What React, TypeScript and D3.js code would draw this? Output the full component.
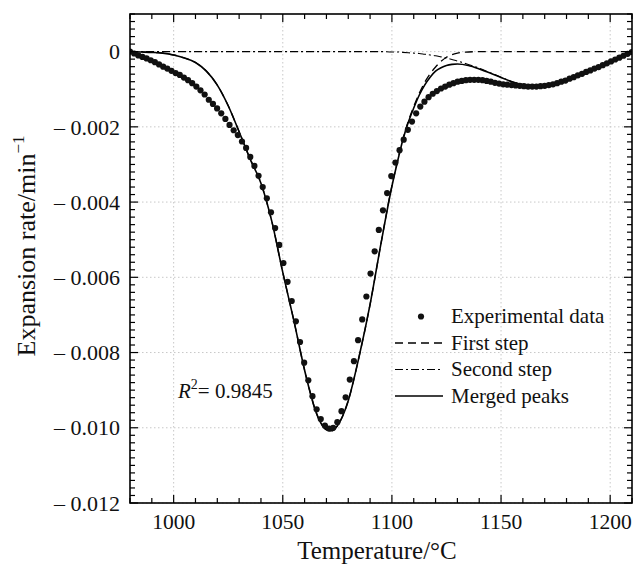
import React from 'react';
import * as d3 from 'd3';

const W = 633;
const H = 568;
const PL = 130, PR = 632, PT = 14, PB = 503;

// axis definitions
const xDomain = [980, 1210];
const yDomain = [-0.012, 0.001];
const xMajorTicks = [1000, 1050, 1100, 1150, 1200];
const xTickLabels = ['1000', '1050', '1100', '1150', '1200'];
const yMajorTicks = [0, -0.002, -0.004, -0.006, -0.008, -0.01, -0.012];
const yTickLabels = ['0', '\u2013 0.002', '\u2013 0.004', '\u2013 0.006', '\u2013 0.008', '\u2013 0.010', '\u2013 0.012'];

// rates are stored in units of 10^-3 min^-1
const RATE_UNIT = 1e-3;

// experimental data
const expTemp = [
  980.0, 981.9, 983.8, 985.7, 987.6, 989.5, 991.4, 993.3, 995.2, 997.1,
  999.0, 1000.9, 1002.8, 1004.7, 1006.6, 1008.5, 1010.4, 1012.3, 1014.2, 1016.1,
  1018.0, 1019.9, 1021.8, 1023.7, 1025.6, 1027.5, 1029.4, 1031.3, 1033.2, 1035.1,
  1037.0, 1038.9, 1040.8, 1042.7, 1044.6, 1046.5, 1048.4, 1050.3, 1052.2, 1054.1,
  1056.0, 1057.9, 1059.8, 1061.7, 1063.6, 1065.5, 1067.4, 1069.3, 1071.2, 1073.1,
  1075.0, 1076.9, 1078.8, 1080.7, 1082.6, 1084.5, 1086.4, 1088.3, 1090.2, 1092.1,
  1094.0, 1095.9, 1097.8, 1099.7, 1101.6, 1103.5, 1105.4, 1107.3, 1109.2, 1111.1,
  1113.0, 1114.9, 1116.8, 1118.7, 1120.6, 1122.5, 1124.4, 1126.3, 1128.2, 1130.1,
  1132.0, 1133.9, 1135.8, 1137.7, 1139.6, 1141.5, 1143.4, 1145.3, 1147.2, 1149.1,
  1151.0, 1152.9, 1154.8, 1156.7, 1158.6, 1160.5, 1162.4, 1164.3, 1166.2, 1168.1,
  1170.0, 1171.9, 1173.8, 1175.7, 1177.6, 1179.5, 1181.4, 1183.3, 1185.2, 1187.1,
  1189.0, 1190.9, 1192.8, 1194.7, 1196.6, 1198.5, 1200.4, 1202.3, 1204.2, 1206.1,
  1208.0, 1209.9,
];
const expRate = [
  0, -0.05, -0.10, -0.14, -0.18, -0.23, -0.28, -0.34, -0.40, -0.45,
  -0.51, -0.57, -0.62, -0.69, -0.76, -0.84, -0.93, -1.03, -1.14, -1.28,
  -1.39, -1.51, -1.64, -1.79, -1.95, -2.09, -2.22, -2.39, -2.56, -2.80,
  -3.04, -3.30, -3.60, -3.90, -4.27, -4.69, -5.14, -5.62, -6.12, -6.63,
  -7.17, -7.72, -8.27, -8.74, -9.16, -9.51, -9.77, -9.94, -10.02, -10.00,
  -9.85, -9.56, -9.19, -8.72, -8.23, -7.67, -7.12, -6.51, -5.90, -5.31,
  -4.74, -4.22, -3.76, -3.31, -2.95, -2.62, -2.34, -2.08, -1.86, -1.64,
  -1.46, -1.33, -1.21, -1.12, -1.05, -0.98, -0.93, -0.88, -0.84, -0.80,
  -0.78, -0.76, -0.75, -0.75, -0.75, -0.76, -0.78, -0.80, -0.83, -0.85,
  -0.87, -0.88, -0.89, -0.90, -0.91, -0.92, -0.93, -0.93, -0.93, -0.92,
  -0.91, -0.89, -0.87, -0.84, -0.80, -0.77, -0.72, -0.68, -0.63, -0.59,
  -0.54, -0.50, -0.45, -0.41, -0.36, -0.31, -0.26, -0.21, -0.16, -0.11,
  -0.06, -0.01,
];

// fitted curves
const fitTemp = [
  980, 985, 990, 995, 1000, 1005, 1010, 1015, 1020, 1025,
  1030, 1035, 1040, 1045, 1050, 1055, 1060, 1062.5, 1065, 1067.5,
  1070, 1072.5, 1075, 1077.5, 1080, 1085, 1090, 1095, 1100, 1102.5,
  1105, 1107.5, 1110, 1112.5, 1115, 1117.5, 1120, 1122.5, 1125, 1127.5,
  1130, 1135, 1140, 1145, 1150, 1155, 1160, 1165, 1170, 1175,
  1180, 1185, 1190, 1195, 1200, 1205, 1210,
];
const firstStepRate = [
  0, -0.01, -0.02, -0.04, -0.09, -0.17, -0.29, -0.52, -0.89, -1.44,
  -2.13, -2.85, -3.50, -4.52, -5.87, -7.13, -8.47, -9.05, -9.55, -9.88,
  -10.05, -10.08, -9.95, -9.68, -9.28, -8.10, -6.72, -5.10, -3.57, -2.93,
  -2.33, -1.85, -1.46, -1.11, -0.82, -0.59, -0.41, -0.26, -0.15, -0.08,
  -0.04, -0.01, 0, 0, 0, 0, 0, 0, 0, 0,
  0, 0, 0, 0, 0, 0, 0,
];
const secondStepRate = [
  0, 0, 0, 0, 0, 0, 0, 0, 0, 0,
  0, 0, 0, 0, 0, 0, 0, 0, 0, 0,
  0, 0, 0, 0, 0, 0, 0, 0, -0.01, -0.01,
  -0.02, -0.03, -0.04, -0.05, -0.07, -0.09, -0.11, -0.14, -0.17, -0.21,
  -0.25, -0.34, -0.44, -0.56, -0.68, -0.80, -0.88, -0.92, -0.92, -0.85,
  -0.76, -0.64, -0.52, -0.40, -0.26, -0.13, -0.01,
];
const mergedRate = [
  0, -0.01, -0.02, -0.04, -0.09, -0.17, -0.29, -0.52, -0.89, -1.44,
  -2.13, -2.85, -3.50, -4.52, -5.87, -7.13, -8.47, -9.05, -9.55, -9.88,
  -10.05, -10.08, -9.95, -9.68, -9.28, -8.10, -6.72, -5.10, -3.58, -2.94,
  -2.35, -1.88, -1.50, -1.16, -0.89, -0.68, -0.52, -0.43, -0.37, -0.34,
  -0.33, -0.37, -0.46, -0.57, -0.69, -0.80, -0.88, -0.92, -0.92, -0.85,
  -0.76, -0.64, -0.52, -0.40, -0.26, -0.13, -0.01,
];

const legendLabels = ['Experimental data', 'First step', 'Second step', 'Merged peaks'];
const r2Value = '0.9845';

const SERIF = "'Liberation Serif', 'Times New Roman', 'DejaVu Serif', serif";

export default function App() {
  const x = d3.scaleLinear().domain(xDomain).range([PL, PR]);
  const y = d3.scaleLinear().domain(yDomain).range([PB, PT]);

  const xMinor = d3.range(980, 1211, 10);
  const yMinor = d3.range(-60, 6, 1).map((v) => v * 0.0002);

  const line = d3
    .line<[number, number]>()
    .x((d) => x(d[0]))
    .y((d) => y(d[1] * RATE_UNIT))
    .curve(d3.curveMonotoneX);

  const pts = (ts: number[], vs: number[]) => ts.map((t, i) => [t, vs[i]] as [number, number]);

  const majorLen = 8;
  const minorLen = 5;

  const legendRows = [316.5, 343, 369.5, 396];
  const legendLineX0 = 395, legendLineX1 = 443, legendTextX = 451;

  return (
    <svg
      width={W}
      height={H}
      viewBox={`0 0 ${W} ${H}`}
      style={{ position: 'absolute', left: 0, top: 0, background: '#fff' }}
      fontFamily={SERIF}
    >
      <defs>
        <clipPath id="plotClip">
          <rect x={PL} y={PT} width={PR - PL} height={PB - PT} />
        </clipPath>
      </defs>
      <rect x={0} y={0} width={W} height={H} fill="#fff" />

      {/* grid */}
      <g stroke="#c8c8c8" strokeWidth={1} strokeDasharray="1.5,2.5">
        {xMajorTicks.map((t) => (
          <line key={'gx' + t} x1={x(t)} x2={x(t)} y1={PT} y2={PB} />
        ))}
        {yMajorTicks.map((t) => (
          <line key={'gy' + t} x1={PL} x2={PR} y1={y(t)} y2={y(t)} />
        ))}
      </g>

      {/* data */}
      <g clipPath="url(#plotClip)">
        <path d={line(pts(fitTemp, secondStepRate)) || ''} fill="none" stroke="#000" strokeWidth={1.1} strokeDasharray="8,3,2,3" />
        <path d={line(pts(fitTemp, firstStepRate)) || ''} fill="none" stroke="#000" strokeWidth={1.3} strokeDasharray="8,5" />
        <path d={line(pts(fitTemp, mergedRate)) || ''} fill="none" stroke="#000" strokeWidth={1.6} />
        {expTemp.map((t, i) => (
          <circle key={'e' + i} cx={x(t)} cy={y(expRate[i] * RATE_UNIT)} r={3.1} fill="#111" />
        ))}
      </g>

      {/* ticks */}
      <g stroke="#000" strokeWidth={1.2}>
        {xMinor.map((t) => {
          const len = xMajorTicks.includes(t) ? majorLen : minorLen;
          return (
            <g key={'tx' + t}>
              <line x1={x(t)} x2={x(t)} y1={PB} y2={PB - len} />
              <line x1={x(t)} x2={x(t)} y1={PT} y2={PT + len} />
            </g>
          );
        })}
        {yMinor.map((t, i) => {
          const major = (i % 10) === 0;
          const len = major ? majorLen : minorLen;
          return (
            <g key={'ty' + i}>
              <line x1={PL} x2={PL + len} y1={y(t)} y2={y(t)} />
              <line x1={PR} x2={PR - len} y1={y(t)} y2={y(t)} />
            </g>
          );
        })}
      </g>

      {/* frame */}
      <rect x={PL} y={PT} width={PR - PL} height={PB - PT} fill="none" stroke="#000" strokeWidth={1.6} />

      {/* tick labels */}
      <g fill="#111">
        {xMajorTicks.map((t, i) => (
          <text key={'xl' + t} x={x(t)} y={529} textAnchor="middle" fontSize={21.5}>{xTickLabels[i]}</text>
        ))}
        {yMajorTicks.map((t, i) => (
          <text key={'yl' + t} x={120} y={y(t)} dy="0.35em" textAnchor="end" fontSize={22}>{yTickLabels[i]}</text>
        ))}
      </g>

      {/* axis titles */}
      <text x={(PL + PR) / 2 - 4} y={559} textAnchor="middle" fontSize={25} fill="#111">Temperature/°C</text>
      <text transform={`translate(35, 246) rotate(-90)`} textAnchor="middle" fontSize={26} fill="#111">
        Expansion rate/min<tspan fontSize={17} dy={-11}>{'\u22121'}</tspan>
      </text>

      {/* R^2 annotation */}
      <text x={178} y={398} fontSize={21} fill="#111">
        <tspan fontStyle="italic">R</tspan>
        <tspan fontSize={14} dy={-9}>2</tspan>
        <tspan dy={9}>{'= ' + r2Value}</tspan>
      </text>

      {/* legend */}
      <g fontSize={21} fill="#111">
        <circle cx={421} cy={legendRows[0]} r={3.1} fill="#111" />
        <line x1={legendLineX0} x2={legendLineX1} y1={legendRows[1]} y2={legendRows[1]} stroke="#000" strokeWidth={1.3} strokeDasharray="8,5" />
        <line x1={legendLineX0} x2={legendLineX1} y1={legendRows[2]} y2={legendRows[2]} stroke="#000" strokeWidth={1.1} strokeDasharray="8,3,2,3" />
        <line x1={legendLineX0} x2={legendLineX1} y1={legendRows[3]} y2={legendRows[3]} stroke="#000" strokeWidth={1.6} />
        {legendLabels.map((l, i) => (
          <text key={l} x={legendTextX} y={legendRows[i]} dy="0.33em">{l}</text>
        ))}
      </g>
    </svg>
  );
}
